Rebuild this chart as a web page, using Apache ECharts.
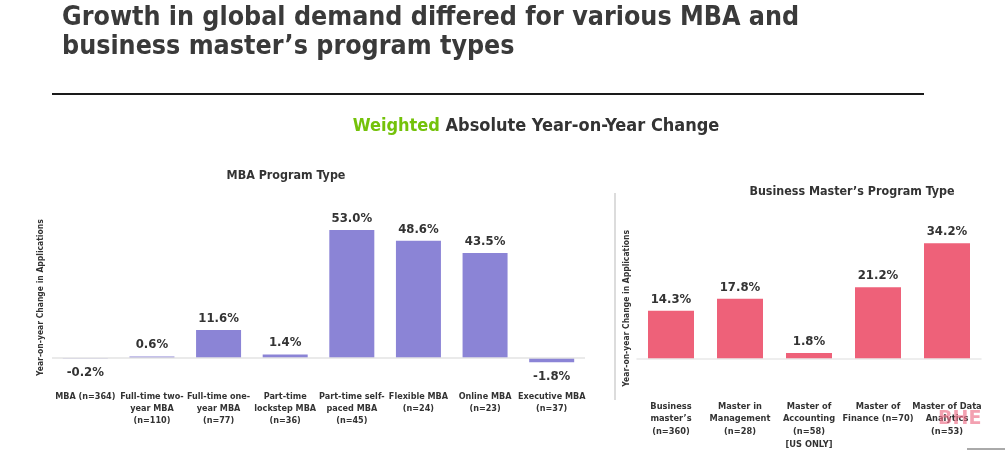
<!DOCTYPE html>
<html>
<head>
<meta charset="utf-8">
<script src="https://cdn.jsdelivr.net/npm/echarts@6/dist/echarts.min.js"></script>
<style>
html,body{margin:0;padding:0;background:#fff;}
#chart{width:1005px;height:450px;}
</style>
</head>
<body>
<div id="chart"></div>
<script>
// ---- data ----
const mbaCategories = [
  "MBA (n=364)",
  "Full-time two-\nyear MBA\n(n=110)",
  "Full-time one-\nyear MBA\n(n=77)",
  "Part-time\nlockstep MBA\n(n=36)",
  "Part-time self-\npaced MBA\n(n=45)",
  "Flexible MBA\n(n=24)",
  "Online MBA\n(n=23)",
  "Executive MBA\n(n=37)"
];
const mbaValues = [-0.2, 0.6, 11.6, 1.4, 53.0, 48.6, 43.5, -1.8];

const masterCategories = [
  "Business\nmaster\u2019s\n(n=360)",
  "Master in\nManagement\n(n=28)",
  "Master of\nAccounting\n(n=58)\n[US ONLY]",
  "Master of\nFinance (n=70)",
  "Master of Data\nAnalytics\n(n=53)"
];
const masterValues = [14.3, 17.8, 1.8, 21.2, 34.2];

const titleLines = ["Growth in global demand differed for various MBA and", "business master\u2019s program types"];
const subtitleHighlight = "Weighted";
const subtitleRest = " Absolute Year-on-Year Change";
const mbaTitle = "MBA Program Type";
const masterTitle = "Business Master\u2019s Program Type";
const yAxisName = "Year-on-year Change in Applications";

// ---- chart ----
const FONT = "'DejaVu Sans Condensed', 'DejaVu Sans', sans-serif";
const TXT = '#333333';

function toData(vals) {
  return vals.map(v => ({
    value: v,
    label: { position: v < 0 ? 'bottom' : 'top', distance: v < 0 ? 8 : 5 }
  }));
}

const labelCommon = {
  show: true,
  formatter: p => p.value.toFixed(1) + '%',
  fontFamily: FONT, fontWeight: 'bold', fontSize: 13, color: TXT
};

function zeroLine(color) {
  return {
    silent: true, symbol: 'none', animation: false,
    label: { show: false },
    lineStyle: { color: color, width: 1.5, type: 'solid' },
    emphasis: { disabled: true },
    data: [{ yAxis: 0 }]
  };
}

function txt(x, y, text, size, color, align) {
  return { type: 'text', x: x, y: y, z: 50,
    style: { text: text, fontFamily: FONT, fontWeight: 'bold', fontSize: size, fill: color,
      align: align || 'left', verticalAlign: 'middle' } };
}

const chart = echarts.init(document.getElementById('chart'), null, {renderer: 'canvas'});
chart.setOption({
  animation: false,
  backgroundColor: '#ffffff',
  graphic: [
    txt(62, 18, titleLines[0], 26.6, '#3a3a3a'),
    txt(62, 47, titleLines[1], 26.6, '#3a3a3a'),
    { type: 'text', x: 536, y: 126, z: 50,
      style: { text: '{g|' + subtitleHighlight + '}' + subtitleRest,
        fontFamily: FONT, fontWeight: 'bold', fontSize: 18, fill: '#333333',
        align: 'center', verticalAlign: 'middle',
        rich: { g: { fontFamily: FONT, fontWeight: 'bold', fontSize: 18, fill: '#74c20a', color: '#74c20a' } } } },
    txt(286, 176, mbaTitle, 12.4, TXT, 'center'),
    txt(852, 192, masterTitle, 12.4, TXT, 'center'),
    { type: 'line', shape: { x1: 52, y1: 94, x2: 924, y2: 94 }, style: { stroke: '#1a1a1a', lineWidth: 2 } },
    { type: 'line', shape: { x1: 615, y1: 193, x2: 615, y2: 400 }, style: { stroke: '#dcdcdc', lineWidth: 2 } },
    { type: 'line', shape: { x1: 967, y1: 449, x2: 1005, y2: 449 }, style: { stroke: '#555', lineWidth: 1 } },
    { type: 'text', x: 938, y: 410, z: 100,
      style: { text: 'BHE', font: "bold 19px 'DejaVu Sans', sans-serif", fill: 'rgba(236,110,135,0.65)' } }
  ],
  grid: [
    { left: 52, width: 533, top: 213.1, height: 169.05, outerBoundsMode: 'none', containLabel: false },
    { left: 636.5, width: 345, top: 223.7, height: 169.15, outerBoundsMode: 'none', containLabel: false }
  ],
  xAxis: [
    { type: 'category', gridIndex: 0, data: mbaCategories,
      axisLine: { show: false, onZero: false },
      axisTick: { show: false },
      axisLabel: { interval: 0, margin: 9, fontFamily: FONT, fontWeight: 'bold', fontSize: 9, lineHeight: 11.7, color: TXT } },
    { type: 'category', gridIndex: 1, data: masterCategories,
      axisLine: { show: false, onZero: false },
      axisTick: { show: false },
      axisLabel: { interval: 0, margin: 7, fontFamily: FONT, fontWeight: 'bold', fontSize: 9.2, lineHeight: 12.7, color: TXT } }
  ],
  yAxis: [
    { type: 'value', gridIndex: 0, min: -10, max: 60,
      name: yAxisName, nameLocation: 'middle', nameRotate: 90, nameGap: 7,
      nameTextStyle: { fontFamily: FONT, fontWeight: 'bold', fontSize: 8.5, color: TXT },
      axisLine: { show: false }, axisTick: { show: false }, axisLabel: { show: false }, splitLine: { show: false } },
    { type: 'value', gridIndex: 1, min: -10, max: 40,
      name: yAxisName, nameLocation: 'middle', nameRotate: 90, nameGap: 5,
      nameTextStyle: { fontFamily: FONT, fontWeight: 'bold', fontSize: 8.5, color: TXT },
      axisLine: { show: false }, axisTick: { show: false }, axisLabel: { show: false }, splitLine: { show: false } }
  ],
  series: [
    { type: 'bar', xAxisIndex: 0, yAxisIndex: 0, data: toData(mbaValues), barWidth: 45,
      itemStyle: { color: '#8b84d6' }, label: labelCommon, markLine: zeroLine('#e3e3e3'), z: 3 },
    { type: 'bar', xAxisIndex: 1, yAxisIndex: 1, data: toData(masterValues), barWidth: 46,
      itemStyle: { color: '#ee6179' }, label: labelCommon, markLine: zeroLine('#e8e8e8'), z: 3 }
  ]
});
</script>
</body>
</html>
